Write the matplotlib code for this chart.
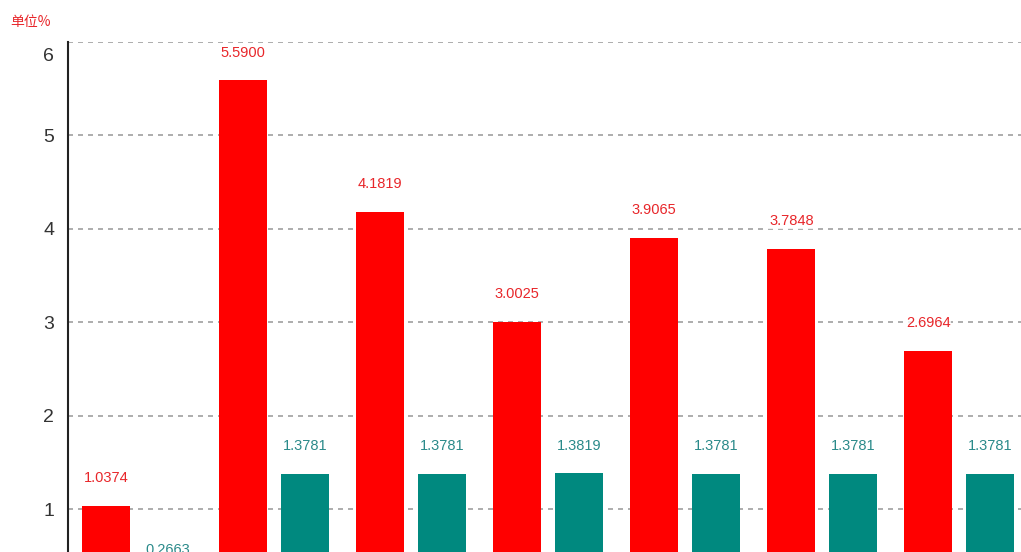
import matplotlib
matplotlib.use("Agg")
import matplotlib.pyplot as plt
import numpy as np

plt.rcParams['font.family'] = ['Liberation Sans', 'Noto Sans CJK SC', 'DejaVu Sans']

groups = ["1", "2", "3", "4", "5", "6", "7"]
red_values = [1.0374, 5.5900, 4.1819, 3.0025, 3.9065, 3.7848, 2.6964]
teal_values = [0.2663, 1.3781, 1.3781, 1.3819, 1.3781, 1.3781, 1.3781]
yticks = [1, 2, 3, 4, 5, 6]
unit_label = "单位%"

red = "#ff0000"
teal = "#00897f"

fig = plt.figure(figsize=(10.21, 5.52), dpi=100)
ax = fig.add_axes([68/1021, 0, 1 - 68/1021, 1 - 42/552])

x = np.arange(len(groups))
off = 0.226
w = 0.35
ax.bar(x - off, red_values, width=w, color=red, zorder=3)
ax.bar(x + off, teal_values, width=w, color=teal, zorder=3)

for xi, v in zip(x, red_values):
    ax.annotate(f"{v:.4f}", (xi - off, v), xytext=(0, 20), textcoords="offset points",
                ha="center", va="center", color="#e8262a", fontsize=10.5, zorder=4,
                bbox=dict(facecolor="white", edgecolor="none", pad=0.5, alpha=0.8))
for xi, v in zip(x, teal_values):
    ax.annotate(f"{v:.4f}", (xi + off, v), xytext=(0, 20), textcoords="offset points",
                ha="center", va="center", color="#2a8a8a", fontsize=10.5, zorder=4,
                annotation_clip=False)

ax.set_xlim(-0.504, 6.45)
ax.set_ylim(0.54, 6.0)
ax.set_yticks(yticks)
ax.set_yticklabels([str(t) if t != 6 else "" for t in yticks], fontsize=14, color="#333333")
ax.annotate("6", xy=(0, 6), xycoords=("axes fraction", "data"), xytext=(-10, -10.5),
            textcoords="offset points", ha="right", va="center", fontsize=14,
            color="#333333", annotation_clip=False)
ax.set_xticks([])
ax.tick_params(axis='y', length=0, pad=10)
ax.yaxis.grid(True, linestyle=(0, (3, 3)), color="#a0a0a0", linewidth=1.2, zorder=0)
for s in ["top", "right", "bottom"]:
    ax.spines[s].set_visible(False)
ax.spines["left"].set_color("#222222")
ax.spines["left"].set_linewidth(1.5)

fig.text(10/1021, 1 - 22/552, unit_label, family=['Noto Sans CJK SC', 'DejaVu Sans'],
         color="#e8262a", fontsize=10, va="center", ha="left")

fig.savefig("out.png", dpi=100)
